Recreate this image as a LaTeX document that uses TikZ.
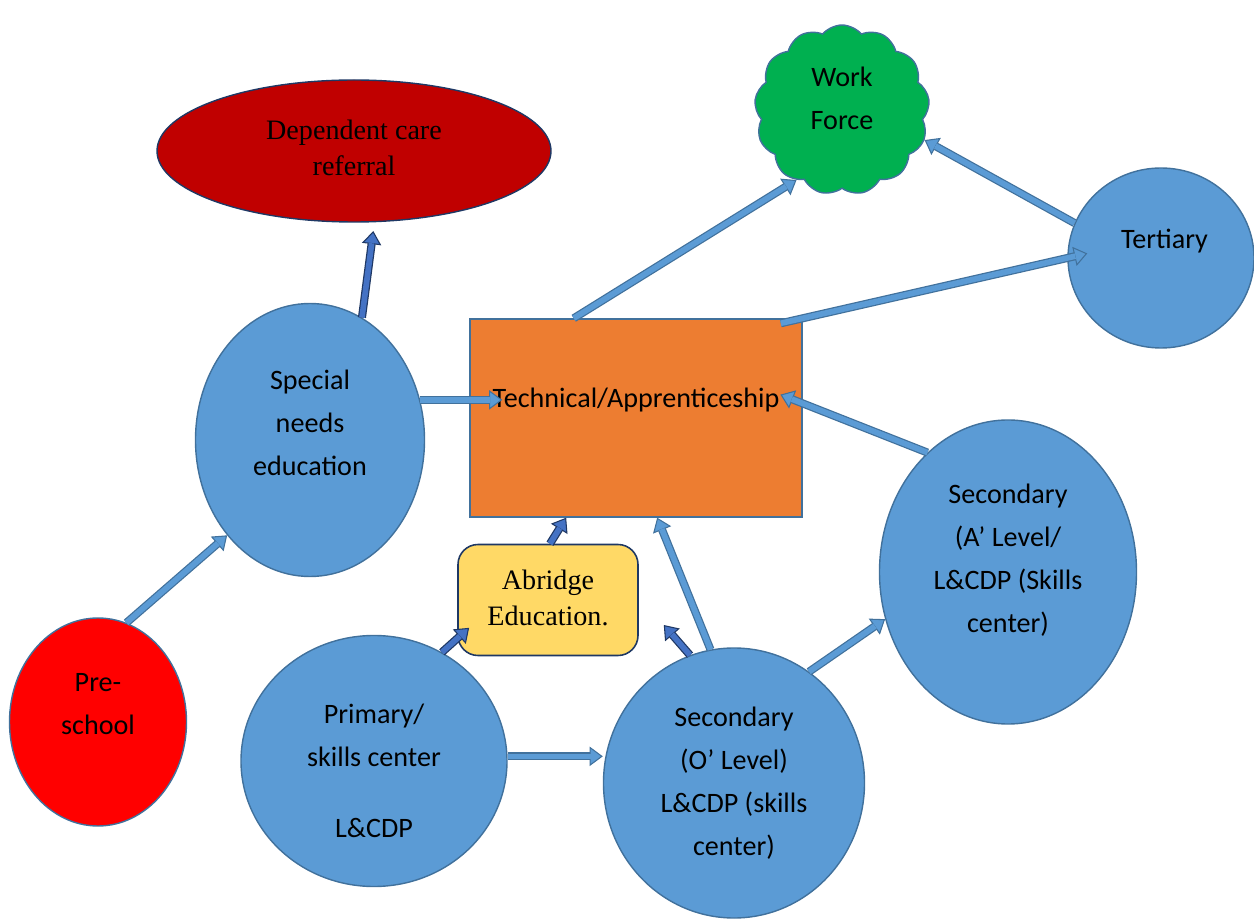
\documentclass[tikz,border=0pt]{standalone}
\usepackage{fontspec}
\setmainfont{Carlito}
\newfontfamily\timesfont{Liberation Serif}
\usetikzlibrary{arrows.meta,calc,shapes.geometric,shapes.symbols}
\definecolor{edublue}{HTML}{5B9BD5}
\definecolor{eduedge}{HTML}{41719C}
\definecolor{edunavy}{HTML}{1F3864}
\definecolor{edudark}{HTML}{4472C4}
\definecolor{eduorange}{HTML}{ED7D31}
\definecolor{edured}{HTML}{FF0000}
\definecolor{edumaroon}{HTML}{C00000}
\definecolor{edugreen}{HTML}{00B050}
\definecolor{eduyellow}{HTML}{FFD966}

\begin{document}
\begin{tikzpicture}[
stage/.style={ellipse,draw=eduedge,fill=edublue,line width=0.8pt,inner sep=0pt},
txt/.style={font=\fontsize{16}{24.5}\selectfont,align=center},
serif/.style={font=\timesfont\fontsize{16}{20.4}\selectfont,align=center},
pipe/.style 2 args={draw=#2,line width=4.6pt,-{Triangle[length=7.5pt,width=11pt,line width=0.6pt,fill=#1]},
postaction={draw=#1,line width=3.2pt,-,shorten >=7pt}},
lightpipe/.style={pipe={edublue}{eduedge}},darkpipe/.style={pipe={edudark}{edunavy}}]
\useasboundingbox (0,0) rectangle (25.08,-18.4);
% stages
\node[stage,fill=edumaroon,draw=edunavy,minimum width=7.88cm,minimum height=2.84cm,
label={[serif,name=depT,yshift=1.7pt]center:Dependent care\\referral}] (dep) at (7.08,-3.02) {};
\node[cloud,cloud puffs=13,cloud puff arc=100,aspect=1,draw=eduedge,fill=edugreen,line width=0.8pt,
inner sep=0pt,minimum width=3.5cm,minimum height=3.4cm,
label={[txt,name=workT,yshift=6.8pt]center:Work\\Force}] (work) at (16.84,-2.2) {};
\node[stage,minimum width=3.72cm,minimum height=3.6cm,
label={[txt,name=tertT,yshift=9.6pt,xshift=2pt]center:Tertiary}] (tert) at (23.22,-5.16) {};
\node[stage,minimum width=4.58cm,minimum height=5.46cm,
label={[txt,name=specT,yshift=9.6pt]center:Special\\needs\\education}] (spec) at (6.2,-8.8) {};
\node[rectangle,draw=eduedge,fill=eduorange,line width=0.8pt,minimum width=6.64cm,minimum height=3.96cm,
label={[txt,name=techT,yshift=10pt]center:Technical/Apprenticeship}] (tech) at (12.72,-8.36) {};
\node[stage,minimum width=5.14cm,minimum height=6.08cm,
label={[txt,name=secAT,yshift=6.8pt]center:Secondary\\(A' Level/\\L\&CDP (Skills\\center)}] (secA) at (20.16,-11.44) {};
\node[stage,fill=edured,minimum width=3.54cm,minimum height=4.16cm,
label={[txt,name=preT,yshift=10pt]center:Pre-\\school}] (pre) at (1.96,-14.44) {};
\node[rectangle,rounded corners=0.4cm,draw=edunavy,fill=eduyellow,line width=0.9pt,
minimum width=3.6cm,minimum height=2.22cm,
label={[serif,name=abrT,yshift=1pt]center:Abridge\\Education.}] (abr) at (10.96,-12) {};
\node[stage,minimum width=5.32cm,minimum height=5.02cm,
label={[txt,name=primT,yshift=-5.7pt]center:Primary/\\skills center\\[16pt]L\&CDP}] (prim) at (7.48,-15.22) {};
\node[stage,minimum width=5.22cm,minimum height=5.4cm,
label={[txt,name=secOT]center:Secondary\\(O' Level)\\L\&CDP (skills\\center)}] (secO) at (14.68,-15.66) {};
\coordinate (abrgap) at ($(abr.east)+(0.5,-0.5)$);
% pathways
\draw[darkpipe] (spec.67) -- ($(dep.-74)!5pt!(spec.67)$);
\draw[lightpipe] (spec.20) -- ($(spec.20 -| tech.west)+(0.66,0)$);
\draw[lightpipe] (pre.74) -- (spec.229);
\draw[lightpipe] (tech.122) -- (work.237);
\draw[lightpipe] ($(tech.north east)!-0.45cm!(tert.west)$) -- ($(tert.west)!-0.41cm!(tech.north east)$);
\draw[lightpipe] (tert.158) -- (work.-20);
\draw[lightpipe] (secA.124) -- ($(tech.5)!-0.48cm!(secA.124)$);
\draw[darkpipe] (abr.88) -- (tech.235);
\draw[darkpipe] (prim.58) -- ($(abr.203)!-0.32cm!(prim.58)$);
\draw[darkpipe] (secO.109) -- (abrgap);
\draw[lightpipe] (secO.100) -- (tech.-78);
\draw[lightpipe] (prim.2) -- (prim.2 -| secO.west);
\draw[lightpipe] (secO.56) -- (secA.201);
\end{tikzpicture}
\end{document}
